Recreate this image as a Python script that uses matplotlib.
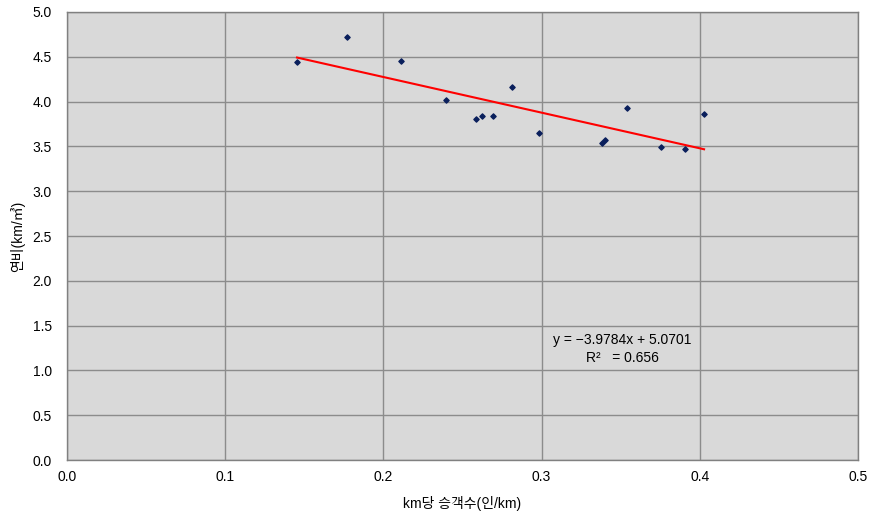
import matplotlib
matplotlib.use("Agg")
import matplotlib.pyplot as plt

plt.rcParams['font.family'] = ['Liberation Sans', 'Noto Sans CJK KR', 'DejaVu Sans']

x_vals = [0.1454, 0.177, 0.2111, 0.2396, 0.2583, 0.2621, 0.2695, 0.2811, 0.2984,
          0.3382, 0.3399, 0.3542, 0.3757, 0.3906, 0.4027]
y_vals = [4.442, 4.72, 4.453, 4.018, 3.806, 3.836, 3.836, 4.163, 3.648,
          3.538, 3.567, 3.925, 3.496, 3.47, 3.862]
slope, intercept = -3.9784, 5.0701
x_ticks = [0.0, 0.1, 0.2, 0.3, 0.4, 0.5]
y_ticks = [0.0, 0.5, 1.0, 1.5, 2.0, 2.5, 3.0, 3.5, 4.0, 4.5, 5.0]

fig = plt.figure(figsize=(8.71, 5.16), dpi=100)
ax = fig.add_axes([67/871, 1-460/516, (858-67)/871, (460-12)/516])
ax.set_facecolor('#d9d9d9')
ax.set_xlim(0, 0.5)
ax.set_ylim(0, 5)
ax.set_xticks(x_ticks)
ax.set_yticks(y_ticks)
ax.set_xticklabels([f"{v:.1f}" for v in x_ticks], fontsize=10)
ax.set_yticklabels([f"{v:.1f}" for v in y_ticks], fontsize=10)
ax.grid(True, color='#8c8c8c', linewidth=1)
ax.set_axisbelow(True)
ax.tick_params(axis='y', length=0, pad=11)
ax.tick_params(axis='x', length=0, pad=7)
for s in ax.spines.values():
    s.set_color('#808080')
    s.set_linewidth(1)

ax.scatter(x_vals, y_vals, marker='D', s=7, color='#0a1f5c', zorder=3)
xl = [min(x_vals), max(x_vals)]
ax.plot(xl, [slope * v + intercept for v in xl], color='#ff0000', linewidth=1.5, zorder=2)

ax.text(0.3508, 1.34, "y = \u22123.9784x + 5.0701", ha='center', va='center', fontsize=10)
ax.text(0.3508, 1.14, "R\u00b2   = 0.656", ha='center', va='center', fontsize=10)

ax.set_xlabel("km당 승객수(인/km)", fontsize=10, labelpad=9)
ax.set_ylabel("연비(km/㎥)", fontsize=10, labelpad=5)

fig.savefig("out.png", dpi=100)
